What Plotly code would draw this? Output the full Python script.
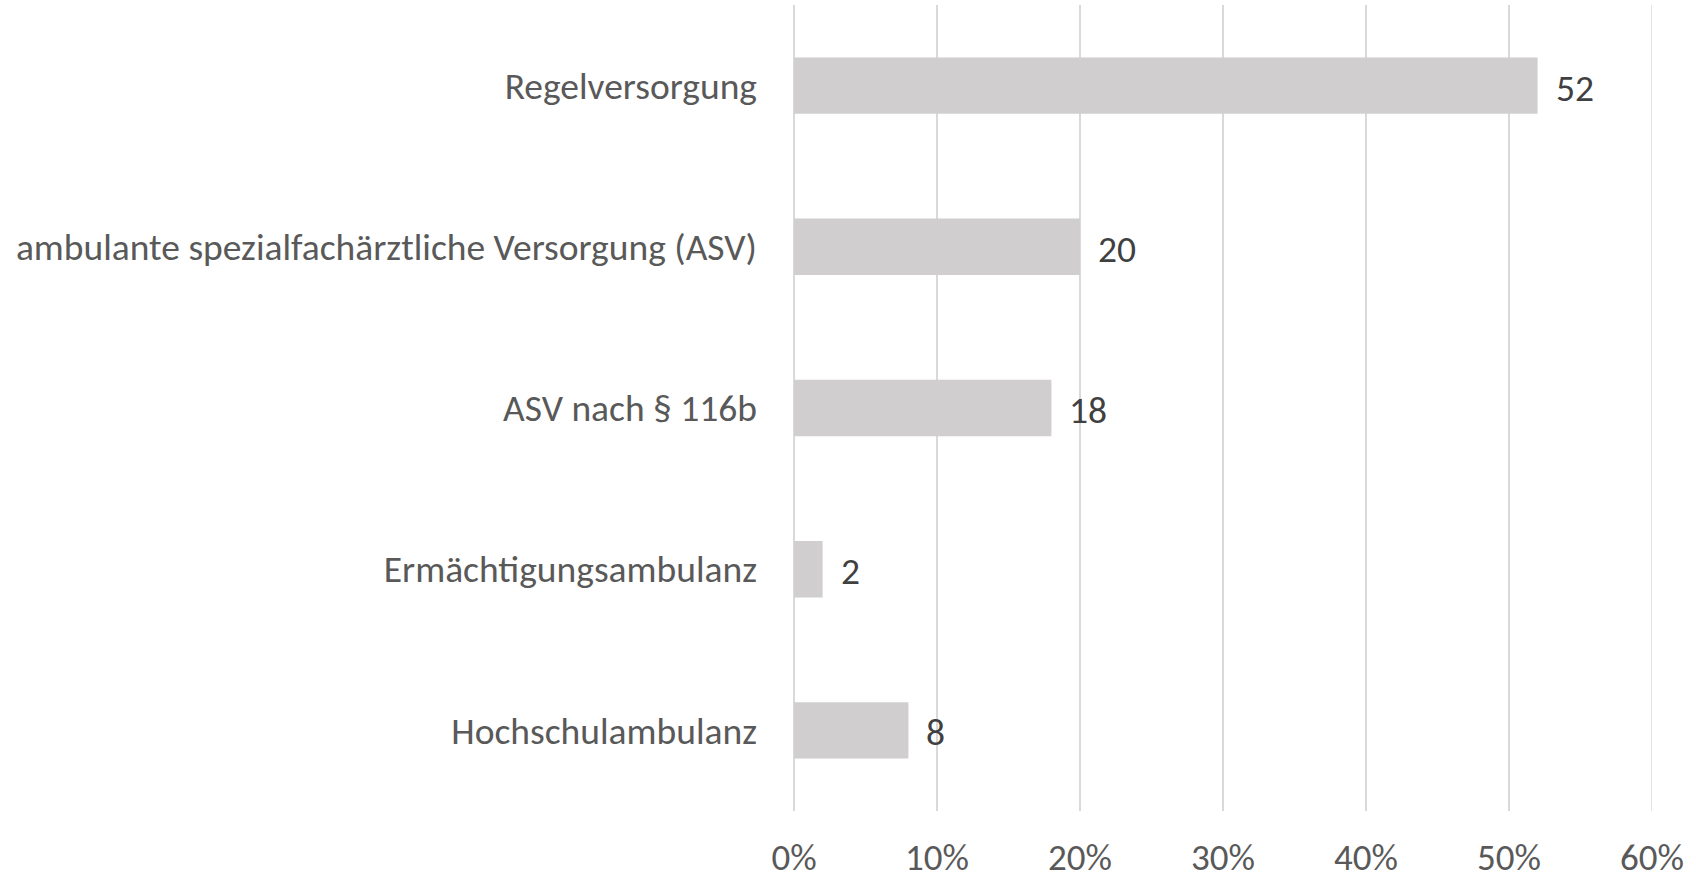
import plotly.graph_objects as go

categories = [
    "Regelversorgung",
    "ambulante spezialfachärztliche Versorgung (ASV)",
    "ASV nach § 116b",
    "Ermächtigungsambulanz",
    "Hochschulambulanz",
]
values = [52, 20, 18, 2, 8]
x_ticks = [0, 10, 20, 30, 40, 50, 60]
x_tick_labels = ["0%", "10%", "20%", "30%", "40%", "50%", "60%"]

FONT = "Carlito, 'Liberation Sans Narrow', Lato, sans-serif"
GRID = "#D9D9D9"

fig = go.Figure()
fig.add_trace(go.Bar(
    y=categories,
    x=values,
    orientation="h",
    marker=dict(color="#D0CECE", line=dict(width=0)),
    hoverinfo="x+y",
))

for c, v in zip(categories, values):
    fig.add_annotation(
        x=v, y=c, text=str(v), showarrow=False,
        xanchor="left", xshift=16, yshift=-2,
        font=dict(family=FONT, size=37.5, color="#404040"),
    )

# gridline at the right end of the axis range (plotly omits it at the edge)
fig.add_shape(type="line", xref="x", yref="paper", x0=x_ticks[-1], x1=x_ticks[-1],
              y0=0, y1=1, line=dict(color=GRID, width=1.5), layer="below")

fig.update_layout(
    width=1696, height=879,
    margin=dict(l=794, r=44, t=5, b=68),
    paper_bgcolor="white", plot_bgcolor="white",
    bargap=0.65,
    showlegend=False,
    font=dict(family=FONT, size=37.5, color="#595959"),
    xaxis=dict(
        range=[0, 60], tickvals=x_ticks, ticktext=x_tick_labels,
        showgrid=True, gridcolor=GRID, gridwidth=1.5,
        zeroline=True, zerolinecolor=GRID, zerolinewidth=1.5,
        showline=False, ticks="", ticklabelstandoff=21,
        automargin=False,
        tickfont=dict(family=FONT, size=37, color="#595959"),
        fixedrange=True,
    ),
    yaxis=dict(
        categoryorder="array", categoryarray=categories, autorange="reversed",
        showgrid=False, zeroline=False, showline=False, ticks="",
        ticklabelstandoff=36, automargin=False,
        tickfont=dict(family=FONT, size=37.5, color="#595959"),
        fixedrange=True,
    ),
)

fig.write_html(
    "out.html",
    config={"displayModeBar": False},
    post_script="document.body.style.margin='0';document.body.style.overflow='hidden';",
)
